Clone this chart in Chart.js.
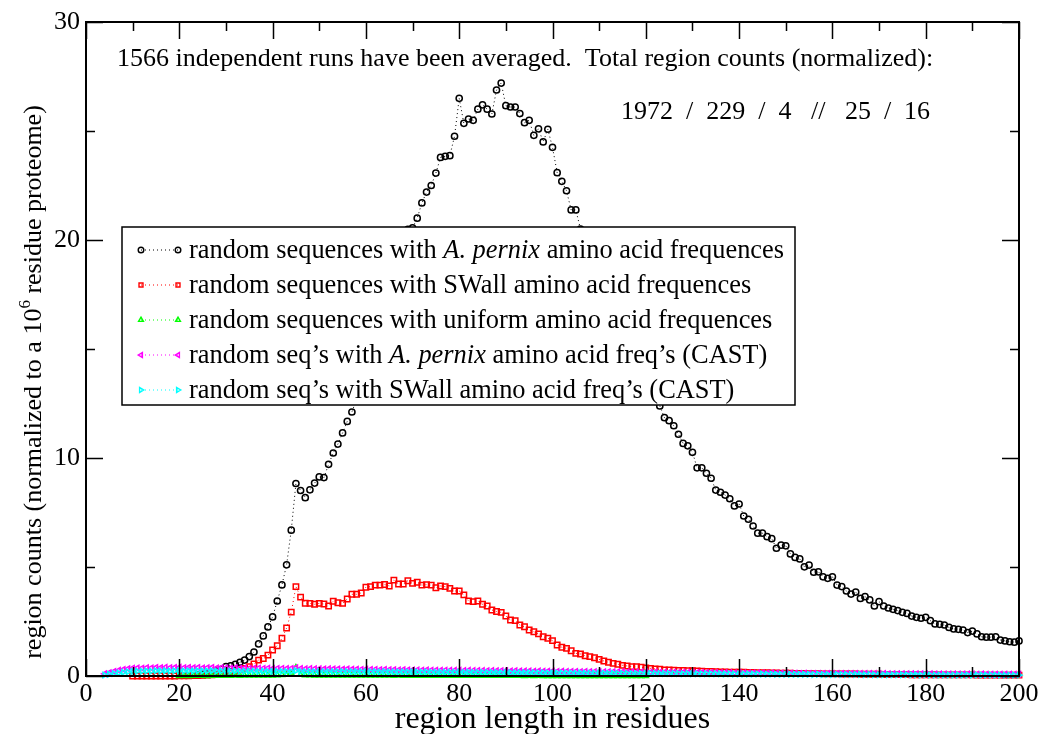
<!DOCTYPE html>
<html>
<head>
<meta charset="utf-8">
<script src="https://cdn.jsdelivr.net/npm/chart.js@4.4.0/dist/chart.umd.min.js"></script>
<style>
  html, body { margin: 0; padding: 0; background: #fff; }
</style>
</head>
<body>
<canvas id="chart" width="1043" height="734"></canvas>
<script>
const FONT = '"Liberation Serif", "Times New Roman", serif';

// region length of the first value in each series, then the counts per length
const pernixStart = 24;
const pernixCounts = [
  0.04, 0.07, 0.10, 0.15, 0.22, 0.30,
  0.43, 0.46, 0.54, 0.63, 0.73, 0.89, 1.10, 1.47, 1.84, 2.25,
  2.71, 3.44, 4.18, 5.10, 6.69, 8.83, 8.51, 8.18, 8.54, 8.85,
  9.13, 9.10, 9.71, 10.23, 10.64, 11.15, 11.68, 12.11, 12.7, 13.6,
  14.1, 15.1, 15.6, 16.5, 17.2, 17.7, 18.7, 19.2, 19.9, 20.49,
  20.56, 21.0, 21.7, 22.2, 22.5, 23.07, 23.79, 23.84, 23.87, 24.76,
  26.5, 25.35, 25.55, 25.49, 26.0, 26.2, 26.0, 25.78, 26.88, 27.2,
  26.16, 26.1, 26.1, 25.8, 25.38, 25.49, 24.8, 25.1, 24.5, 25.08,
  24.25, 23.09, 22.69, 22.26, 21.38, 21.38, 20.5, 20.0, 19.6, 19.0,
  18.5, 18.0, 17.3, 16.9, 16.2, 15.8, 15.2, 14.7, 14.2, 13.8,
  13.3, 12.9, 12.6, 12.39, 11.85, 11.71, 11.48, 11.09, 10.67, 10.56,
  10.26, 9.55, 9.55, 9.3, 9.07, 8.53, 8.43, 8.3, 8.13, 7.8,
  7.89, 7.34, 7.19, 6.88, 6.55, 6.55, 6.39, 6.3, 5.86, 6.0,
  5.97, 5.6, 5.44, 5.37, 5.01, 5.09, 4.76, 4.78, 4.55, 4.48,
  4.55, 4.17, 4.10, 3.9, 3.76, 3.85, 3.56, 3.64, 3.49, 3.21,
  3.41, 3.21, 3.12, 3.06, 3.0, 2.92, 2.87, 2.75, 2.69, 2.65,
  2.69, 2.54, 2.39, 2.37, 2.34, 2.23, 2.16, 2.14, 2.11, 1.99,
  2.06, 1.93, 1.80, 1.78, 1.78, 1.80, 1.65, 1.61, 1.57, 1.55,
  1.61
];

const swallStart = 10;
const swallCounts = [
  0.00, 0.00, 0.00, 0.00, 0.00, 0.00, 0.00, 0.00, 0.00, 0.00,
  0.01, 0.01, 0.01, 0.02, 0.02, 0.03, 0.04, 0.05, 0.07, 0.10,
  0.13, 0.17, 0.22, 0.28, 0.35, 0.43, 0.55, 0.73, 0.80, 0.96,
  1.19, 1.39, 1.73, 2.20, 2.93, 4.10, 3.62, 3.34, 3.33, 3.29,
  3.33, 3.30, 3.21, 3.43, 3.36, 3.33, 3.53, 3.75, 3.75, 3.81,
  4.07, 4.10, 4.17, 4.17, 4.20, 4.13, 4.40, 4.22, 4.22, 4.37,
  4.25, 4.30, 4.17, 4.19, 4.17, 4.05, 4.13, 4.10, 4.02, 3.90,
  3.90, 3.72, 3.44, 3.41, 3.44, 3.29, 3.21, 3.03, 2.96, 2.92,
  2.75, 2.57, 2.54, 2.34, 2.26, 2.11, 2.03, 1.93, 1.80, 1.73,
  1.62, 1.42, 1.32, 1.27, 1.16, 1.04, 1.01, 0.93, 0.89, 0.84,
  0.76, 0.69, 0.63, 0.58, 0.54, 0.49, 0.46, 0.43, 0.43, 0.40,
  0.37, 0.35, 0.32, 0.31, 0.28, 0.28, 0.27, 0.26, 0.25, 0.24,
  0.24, 0.23, 0.22, 0.21, 0.21, 0.20, 0.19, 0.19, 0.18, 0.18,
  0.17, 0.17, 0.16, 0.16, 0.15, 0.15, 0.15, 0.14, 0.14, 0.13,
  0.13, 0.13, 0.12, 0.12, 0.12, 0.11, 0.11, 0.11, 0.10, 0.10,
  0.10, 0.10, 0.09, 0.09, 0.09, 0.09, 0.08, 0.08, 0.08, 0.08,
  0.08, 0.07, 0.07, 0.07, 0.07, 0.07, 0.07, 0.06, 0.06, 0.06,
  0.06, 0.06, 0.06, 0.05, 0.05, 0.05, 0.05, 0.05, 0.05, 0.05,
  0.05, 0.04, 0.04, 0.04, 0.04, 0.04, 0.04, 0.04, 0.04, 0.04,
  0.04
];

const uniformStart = 20;
const uniformCounts = [
  0.00, 0.01, 0.00, 0.01, 0.01, 0.01, 0.00, 0.01, 0.01, 0.01,
  0.01, 0.01, 0.02, 0.01, 0.02, 0.02, 0.02, 0.02, 0.03, 0.03,
  0.03, 0.04, 0.05, 0.07, 0.12, 0.38, 0.06, 0.04, 0.04, 0.03,
  0.03, 0.03, 0.03, 0.03, 0.02, 0.03, 0.02, 0.02, 0.02, 0.02,
  0.02, 0.02, 0.02, 0.02, 0.02, 0.02, 0.01, 0.02, 0.01, 0.01,
  0.01, 0.01, 0.01, 0.01, 0.01, 0.01, 0.01, 0.01, 0.01, 0.01,
  0.01, 0.01, 0.01, 0.01, 0.01, 0.01, 0.01, 0.01, 0.01, 0.01,
  0.01, 0.01, 0.01, 0.01, 0.00, 0.01, 0.00, 0.01, 0.00, 0.00,
  0.00, 0.00, 0.00, 0.00, 0.00, 0.00, 0.00, 0.00, 0.00, 0.00,
  0.00, 0.00, 0.00, 0.00, 0.00, 0.00, 0.00, 0.00, 0.00, 0.00,
  0.00
];

const pernixCastStart = 4;
const pernixCastCounts = [
  0.10, 0.15, 0.21, 0.26, 0.30, 0.33, 0.36, 0.37, 0.36, 0.38,
  0.37, 0.39, 0.38, 0.40, 0.38, 0.39, 0.40, 0.38, 0.39, 0.38,
  0.39, 0.37, 0.38, 0.39, 0.37, 0.38, 0.37, 0.36, 0.38, 0.36,
  0.37, 0.35, 0.36, 0.36, 0.35, 0.36, 0.34, 0.35, 0.35, 0.34,
  0.35, 0.38, 0.34, 0.33, 0.34, 0.33, 0.33, 0.32, 0.33, 0.32,
  0.32, 0.31, 0.32, 0.31, 0.31, 0.30, 0.31, 0.30, 0.30, 0.29,
  0.30, 0.29, 0.29, 0.28, 0.29, 0.28, 0.28, 0.28, 0.27, 0.28,
  0.27, 0.27, 0.26, 0.27, 0.26, 0.26, 0.26, 0.25, 0.26, 0.25,
  0.25, 0.25, 0.24, 0.25, 0.24, 0.24, 0.24, 0.23, 0.24, 0.23,
  0.23, 0.23, 0.22, 0.23, 0.22, 0.22, 0.22, 0.21, 0.22, 0.21,
  0.21, 0.21, 0.20, 0.21, 0.20, 0.20, 0.20, 0.19, 0.20, 0.19,
  0.19, 0.19, 0.18, 0.19, 0.18, 0.18, 0.18, 0.17, 0.18, 0.17,
  0.17, 0.17, 0.17, 0.16, 0.17, 0.16, 0.16, 0.16, 0.16, 0.15,
  0.16, 0.15, 0.15, 0.15, 0.15, 0.14, 0.15, 0.14, 0.14, 0.14,
  0.14, 0.14, 0.13, 0.14, 0.13, 0.13, 0.13, 0.13, 0.13, 0.12,
  0.13, 0.12, 0.12, 0.12, 0.12, 0.12, 0.12, 0.11, 0.12, 0.11,
  0.11, 0.11, 0.11, 0.11, 0.11, 0.11, 0.10, 0.11, 0.10, 0.10,
  0.10, 0.10, 0.10, 0.10, 0.10, 0.10, 0.09, 0.10, 0.09, 0.09,
  0.09, 0.09, 0.09, 0.09, 0.09, 0.09, 0.09, 0.08, 0.09, 0.08,
  0.08, 0.08, 0.08, 0.08, 0.08, 0.08, 0.08
];

const swallCastStart = 4;
const swallCastCounts = [
  0.05, 0.08, 0.11, 0.14, 0.17, 0.19, 0.21, 0.22, 0.22, 0.23,
  0.22, 0.24, 0.23, 0.24, 0.23, 0.24, 0.24, 0.23, 0.24, 0.23,
  0.24, 0.23, 0.23, 0.24, 0.22, 0.23, 0.23, 0.22, 0.23, 0.22,
  0.22, 0.22, 0.22, 0.21, 0.22, 0.21, 0.21, 0.21, 0.21, 0.21,
  0.21, 0.24, 0.21, 0.20, 0.21, 0.20, 0.20, 0.20, 0.20, 0.20,
  0.20, 0.19, 0.20, 0.19, 0.19, 0.19, 0.19, 0.19, 0.19, 0.18,
  0.19, 0.18, 0.18, 0.18, 0.18, 0.18, 0.18, 0.18, 0.17, 0.18,
  0.17, 0.17, 0.17, 0.17, 0.17, 0.17, 0.17, 0.16, 0.17, 0.16,
  0.16, 0.16, 0.16, 0.16, 0.16, 0.15, 0.16, 0.15, 0.15, 0.15,
  0.15, 0.15, 0.15, 0.14, 0.15, 0.14, 0.14, 0.14, 0.14, 0.14,
  0.14, 0.13, 0.14, 0.13, 0.13, 0.13, 0.13, 0.13, 0.12, 0.13,
  0.12, 0.12, 0.12, 0.12, 0.12, 0.12, 0.11, 0.12, 0.11, 0.11,
  0.11, 0.11, 0.11, 0.11, 0.10, 0.11, 0.10, 0.10, 0.10, 0.10,
  0.10, 0.10, 0.10, 0.09, 0.10, 0.09, 0.09, 0.09, 0.09, 0.09,
  0.09, 0.09, 0.08, 0.09, 0.08, 0.08, 0.08, 0.08, 0.08, 0.08,
  0.08, 0.08, 0.07, 0.08, 0.07, 0.07, 0.07, 0.07, 0.07, 0.07,
  0.07, 0.07, 0.07, 0.06, 0.07, 0.06, 0.06, 0.06, 0.06, 0.06,
  0.06, 0.06, 0.06, 0.06, 0.06, 0.05, 0.06, 0.05, 0.05, 0.05,
  0.05, 0.05, 0.05, 0.05, 0.05, 0.05, 0.05, 0.05, 0.05, 0.04,
  0.05, 0.04, 0.04, 0.04, 0.04, 0.04, 0.04
];

const xTitle = 'region length in residues';
const yTitle = ['region counts (normalized to a 10', '6', ' residue proteome)'];
const noteLine1 = '1566 independent runs have been averaged.  Total region counts (normalized):';
const noteLine2 = '1972  /  229  /  4   //   25  /  16';

// legend text pieces: [text, italic]
const legendRows = [
  { color: '#000000', style: 'circle', parts: [['random sequences with ', false], ['A. pernix', true], [' amino acid frequences', false]] },
  { color: '#ff0000', style: 'rect', parts: [['random sequences with SWall amino acid frequences', false]] },
  { color: '#00ff00', style: 'up', parts: [['random sequences with uniform amino acid frequences', false]] },
  { color: '#ff00ff', style: 'left', parts: [['random seq\u2019s with ', false], ['A. pernix', true], [' amino acid freq\u2019s (CAST)', false]] },
  { color: '#00ffff', style: 'right', parts: [['random seq\u2019s with SWall amino acid freq\u2019s (CAST)', false]] }
];

function toPoints(start, values) {
  return values.map((v, i) => ({ x: start + i, y: v }));
}

function series(label, start, values, color, pointStyle, rotation, radius, order) {
  return {
    label: label,
    data: toPoints(start, values),
    borderColor: color,
    borderWidth: 1,
    borderDash: [1, 3],
    pointStyle: pointStyle,
    rotation: rotation,
    pointRadius: radius,
    pointBorderWidth: 1.5,
    pointBorderColor: color,
    pointBackgroundColor: 'rgba(0,0,0,0)',
    fill: false,
    tension: 0,
    clip: false,
    order: order
  };
}

function drawMarker(ctx, style, cx, cy, r) {
  ctx.beginPath();
  if (style === 'circle') {
    ctx.arc(cx, cy, r, 0, Math.PI * 2);
  } else if (style === 'rect') {
    const s = r * Math.SQRT1_2;
    ctx.rect(cx - s, cy - s, 2 * s, 2 * s);
  } else {
    let rad = style === 'up' ? 0 : style === 'right' ? Math.PI / 2 : -Math.PI / 2;
    ctx.moveTo(cx + Math.sin(rad) * r, cy - Math.cos(rad) * r);
    for (let k = 0; k < 2; k++) {
      rad += Math.PI * 2 / 3;
      ctx.lineTo(cx + Math.sin(rad) * r, cy - Math.cos(rad) * r);
    }
    ctx.closePath();
  }
  ctx.stroke();
}

const decorations = {
  id: 'decorations',
  afterDatasetsDraw(chart) {
    const { ctx, chartArea: a, scales: { x, y } } = chart;
    ctx.save();
    ctx.strokeStyle = '#000';
    ctx.lineWidth = 2;
    ctx.strokeRect(a.left, a.top, a.right - a.left, a.bottom - a.top);

    // inward ticks on all four sides
    ctx.lineWidth = 1.5;
    ctx.beginPath();
    for (let v = 0; v <= 200; v += 10) {
      const px = Math.round(x.getPixelForValue(v)) + 0.5;
      const len = v % 20 === 0 ? 17 : 9;
      ctx.moveTo(px, a.bottom); ctx.lineTo(px, a.bottom - len);
      ctx.moveTo(px, a.top); ctx.lineTo(px, a.top + len);
    }
    for (let v = 0; v <= 30; v += 5) {
      const py = Math.round(y.getPixelForValue(v)) + 0.5;
      const len = v % 10 === 0 ? 17 : 9;
      ctx.moveTo(a.left, py); ctx.lineTo(a.left + len, py);
      ctx.moveTo(a.right, py); ctx.lineTo(a.right - len, py);
    }
    ctx.stroke();

    // notes at the top of the plot
    ctx.fillStyle = '#000';
    ctx.font = '26px ' + FONT;
    ctx.textBaseline = 'alphabetic';
    ctx.textAlign = 'left';
    ctx.fillText(noteLine1, 117, 66);
    ctx.fillText(noteLine2, 621, 119);

    // legend box
    const box = { l: 122, t: 227, r: 795, b: 405 };
    ctx.fillStyle = '#fff';
    ctx.fillRect(box.l, box.t, box.r - box.l, box.b - box.t);
    ctx.lineWidth = 1.5;
    ctx.strokeStyle = '#000';
    ctx.strokeRect(box.l, box.t, box.r - box.l, box.b - box.t);
    legendRows.forEach((row, i) => {
      const cy = 250 + i * 35;
      ctx.strokeStyle = row.color;
      ctx.lineWidth = 1;
      ctx.setLineDash([1, 3]);
      ctx.beginPath();
      ctx.moveTo(141, cy); ctx.lineTo(178, cy);
      ctx.stroke();
      ctx.setLineDash([]);
      ctx.lineWidth = 1.4;
      drawMarker(ctx, row.style, 141, cy, 2.8);
      drawMarker(ctx, row.style, 178, cy, 2.8);
      let tx = 189;
      ctx.fillStyle = '#000';
      row.parts.forEach(([text, italic]) => {
        ctx.font = (italic ? 'italic ' : '') + '26.4px ' + FONT;
        ctx.fillText(text, tx, cy + 8);
        tx += ctx.measureText(text).width;
      });
    });

    // axis titles
    ctx.fillStyle = '#000';
    ctx.font = '32px ' + FONT;
    ctx.textAlign = 'center';
    ctx.fillText(xTitle, (a.left + a.right) / 2, 728);

    ctx.save();
    ctx.translate(41, 382);
    ctx.rotate(-Math.PI / 2);
    ctx.textAlign = 'left';
    ctx.font = '26px ' + FONT;
    const w1 = ctx.measureText(yTitle[0]).width;
    const w3 = ctx.measureText(yTitle[2]).width;
    ctx.font = '17px ' + FONT;
    const w2 = ctx.measureText(yTitle[1]).width;
    let sx = -(w1 + w2 + w3) / 2;
    ctx.font = '26px ' + FONT;
    ctx.fillText(yTitle[0], sx, 0);
    sx += w1;
    ctx.font = '17px ' + FONT;
    ctx.fillText(yTitle[1], sx, -11);
    sx += w2;
    ctx.font = '26px ' + FONT;
    ctx.fillText(yTitle[2], sx, 0);
    ctx.restore();

    ctx.restore();
  }
};

new Chart(document.getElementById('chart'), {
  type: 'line',
  data: {
    datasets: [
      series('random sequences with A. pernix amino acid frequences', pernixStart, pernixCounts, '#000000', 'circle', 0, 3.1, 5),
      series('random sequences with SWall amino acid frequences', swallStart, swallCounts, '#ff0000', 'rect', 0, 3.8, 4),
      series('random sequences with uniform amino acid frequences', uniformStart, uniformCounts, '#00ff00', 'triangle', 0, 3.1, 3),
      series('random seq\u2019s with A. pernix amino acid freq\u2019s (CAST)', pernixCastStart, pernixCastCounts, '#ff00ff', 'triangle', -90, 3.1, 2),
      series('random seq\u2019s with SWall amino acid freq\u2019s (CAST)', swallCastStart, swallCastCounts, '#00ffff', 'triangle', 90, 3.1, 1)
    ]
  },
  options: {
    responsive: false,
    animation: false,
    layout: { padding: { top: 22, right: 24, left: 0, bottom: 0 } },
    plugins: {
      legend: { display: false },
      tooltip: { enabled: false }
    },
    scales: {
      x: {
        type: 'linear',
        min: 0,
        max: 200,
        afterFit: (s) => { s.height = 58; },
        grid: { display: false, drawTicks: false },
        border: { display: false },
        ticks: { stepSize: 20, padding: 3, maxRotation: 0, color: '#000', font: { family: FONT, size: 26 } }
      },
      y: {
        type: 'linear',
        min: 0,
        max: 30,
        afterFit: (s) => { s.width = 86; },
        grid: { display: false, drawTicks: false },
        border: { display: false },
        ticks: { stepSize: 10, padding: 6, color: '#000', font: { family: FONT, size: 26 } }
      }
    }
  },
  plugins: [decorations]
});
</script>
</body>
</html>
